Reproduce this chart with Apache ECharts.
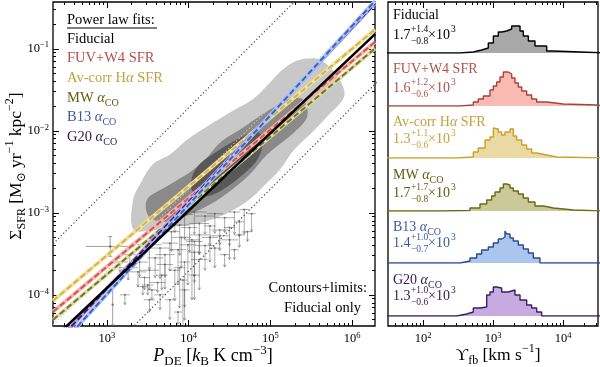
<!DOCTYPE html>
<html><head><meta charset="utf-8">
<script src="https://cdn.jsdelivr.net/npm/echarts@6/dist/echarts.min.js"></script>
<style>html,body{margin:0;padding:0;background:#fff}#c{width:600px;height:367px}</style>
</head><body><div id="c"></div>
<script>
const FONT = '"Liberation Serif","DejaVu Serif",serif';

// ---------- Left panel (all values are log10) ----------
const pdeRange = [2.34, 6.28];
const sfrRange = [-4.38, -0.43];
const pdeMajor = [3, 4, 5, 6];
const sfrMajor = [-4, -3, -2, -1];

const contourOuter = [[3.32,-3.20],[3.32,-2.84],[3.40,-2.66],[3.56,-2.41],[3.77,-2.29],[3.98,-2.11],[4.22,-1.95],[4.50,-1.78],[4.78,-1.62],[4.95,-1.46],[5.11,-1.29],[5.27,-1.17],[5.44,-1.12],[5.60,-1.13],[5.76,-1.26],[5.88,-1.44],[5.90,-1.59],[5.72,-1.80],[5.51,-2.02],[5.29,-2.23],[5.11,-2.48],[4.93,-2.66],[4.74,-2.84],[4.50,-2.99],[4.26,-3.09],[4.01,-3.15],[3.77,-3.17],[3.52,-3.22]];
const contourMid = [[3.52,-3.05],[3.49,-2.84],[3.73,-2.68],[4.01,-2.51],[4.20,-2.35],[4.40,-2.13],[4.62,-1.99],[4.84,-1.84],[5.05,-1.71],[5.27,-1.60],[5.41,-1.63],[5.45,-1.83],[5.29,-2.02],[4.96,-2.29],[4.74,-2.54],[4.50,-2.74],[4.26,-2.90],[4.01,-3.02],[3.77,-3.11]];
const contourInner = [[4.05,-2.74],[4.04,-2.57],[4.13,-2.41],[4.38,-2.23],[4.62,-2.09],[4.83,-2.01],[4.91,-2.11],[4.84,-2.35],[4.62,-2.57],[4.38,-2.74],[4.20,-2.80]];

// reference lines Sigma ∝ P (dotted)
const refUpper = [[2.0,-3.72],[6.5,0.78]];
const refMiddle = [[2.0,-4.71],[6.5,-0.21]];
const refLower = [[2.0,-5.71],[6.5,-1.21]];

// power-law fits: log Sigma at the two ends of the P range
const fitNames = ['Fiducial','FUV+W4 SFR','Av-corr Hα SFR','MW αCO','B13 αCO','G20 αCO'];
const fitPde = [2.34, 6.28];
const fitStart = [-4.539, -4.207, -4.073, -4.305, -4.711, -4.623];
const fitEnd   = [-0.821, -0.918, -0.765, -0.996, -0.417, -0.449];

// upper limits: [logP, logSigma, xErr(dex), arrow length(dex)]
const ptsLimits = [
 [3.83,-3.00,.12,.24],[3.95,-3.02,.10,.30],[4.07,-2.99,.15,.27],[4.20,-3.04,.12,.22],[4.32,-3.01,.10,.24],
 [4.44,-3.06,.12,.18],[4.56,-2.99,.07,.27],[4.68,-2.96,.06,.30],[4.77,-3.01,.05,.22],[3.89,-3.15,.12,.37],
 [4.01,-3.18,.10,.30],[4.13,-3.13,.12,.37],[4.26,-3.16,.07,.24],[4.38,-3.21,.10,.18],[4.50,-3.18,.07,.22],
 [4.62,-3.11,.06,.18],[3.52,-3.39,.15,.30],[3.65,-3.43,.12,.37],[3.77,-3.37,.10,.34],[3.71,-3.51,.12,.27],
 [3.87,-3.45,.10,.43],[3.99,-3.39,.10,.49],[4.07,-3.48,.07,.37],[3.59,-3.55,.10,.24],[3.95,-3.60,.07,.55],
 [4.04,-3.33,.10,.73],[3.38,-3.72,.10,.18],[3.46,-3.79,.07,.15],[3.52,-3.70,.12,.24],[3.62,-3.85,.10,.12],
 [3.44,-3.90,.07,.10],[3.67,-3.76,.07,.18],[3.55,-3.94,.06,.12],[3.26,-3.67,.12,.15],[3.16,-3.60,.10,.12],
 [3.22,-4.00,.06,.12],[3.89,-3.67,.07,.49],[3.93,-3.82,.05,.61],
 [4.13,-3.27,.12,.24],[4.26,-3.30,.10,.30],[4.38,-3.28,.12,.18],[4.50,-3.33,.10,.24],[4.62,-3.27,.07,.15],
 [4.72,-3.23,.06,.12],[3.79,-3.23,.10,.24],[3.91,-3.30,.12,.37],[4.07,-3.35,.10,.43],[4.20,-3.40,.12,.30],
 [4.32,-3.43,.07,.24],[3.71,-3.63,.10,.30],[3.83,-3.70,.07,.37],[3.65,-4.00,.07,.18],[3.77,-4.06,.06,.24],
 [3.52,-4.06,.07,.15],[3.95,-3.94,.06,.37],[4.07,-3.76,.07,.30],[4.13,-3.57,.10,.37],[4.44,-3.51,.06,.15],
 [4.56,-3.45,.05,.12],[3.28,-3.51,.07,.15],[3.40,-3.60,.10,.18],[3.50,-3.88,.07,.12],[3.87,-4.21,.05,.15]
];
// detections: [logP, logSigma, xErr, yErr]
const ptsDetect = [[3.04,-3.41,0.30,0.12],[3.07,-4.12,0.00,0.25]];

// ---------- Right panel ----------
const upsRange = [1.5, 4.5];
const upsMajor = [2, 3, 4];
const histEdges = [
 [2.529,2.719,2.838,2.933,3.005,3.076,3.124,3.195,3.267,3.386,3.433,3.505,3.600,3.767,3.862],
 [2.529,2.719,2.790,2.862,2.957,3.005,3.052,3.100,3.148,3.219,3.267,3.314,3.362,3.410,3.481,3.552,3.624,3.767,4.005,4.481],
 [2.481,2.719,2.790,2.886,2.957,3.005,3.029,3.076,3.124,3.171,3.243,3.290,3.338,3.410,3.481,3.552,3.624,3.767,3.910,4.243],
 [2.243,2.671,2.814,2.910,2.981,3.029,3.100,3.148,3.195,3.243,3.290,3.362,3.433,3.505,3.600,3.719,3.862,4.148],
 [2.529,2.671,2.767,2.838,2.933,3.005,3.076,3.124,3.171,3.195,3.243,3.290,3.362,3.433,3.505,3.576,3.671],
 [2.481,2.624,2.719,2.814,2.910,2.957,3.005,3.052,3.124,3.219,3.314,3.386,3.481,3.552,3.624,3.695]
];
const histCounts = [
 [1,3,5,10,17,21,22,24,27,22,17,12,7,2],
 [1,4,7,10,16,20,24,29,34,32,28,23,19,15,11,7,4,2,1],
 [1,6,10,18,21,30,29,26,23,26,29,22,18,13,9,5,3,1,0.5],
 [0.5,3,7,11,15,19,23,27,26,23,20,17,13,9,5,3,1],
 [2,5,9,13,16,20,24,26,32,29,25,22,18,14,10,5],
 [2,4,8,9,21,24,29,28,24,26,21,16,11,8,4]
];
const panelNames = ['{t|Fiducial}','{t|FUV+W4 SFR}','{t|Av-corr H}{a|α}{t| SFR}','{t|MW }{a|α}{s|CO}','{t|B13 }{a|α}{s|CO}','{t|G20 }{a|α}{s|CO}'];
const upsMedian = [1.7, 1.6, 1.3, 1.7, 1.4, 1.3];   // x10^3 km/s
const upsPlus   = [1.4, 1.2, 1.1, 1.7, 1.0, 1.0];
const upsMinus  = [0.8, 0.6, 0.6, 0.8, 0.7, 0.6];
const errLevel = 6.5;

// ---------- styles ----------
const fitColors = ['#000000','#d8554c','#d8b43e','#77761a','#3b62c6','#3d1e78'];
const fitHalo   = [null,'#f4b5ad','#f1e2a3','#dcdaa6','#aac3f0','#b9a0e2'];
const textColors = ['#000000','#b5504a','#c2a23e','#5f5e12','#3c5a9a','#2f1b4d'];
const histLine = ['#000000','#a8423c','#c9a227','#6b6a14','#2c4a8c','#3b1f63'];
const histFill = ['#a8a8a8','#f9bab4','#ebd9a3','#cbc99a','#abc6ee','#c7aadf'];
const subTops = [2, 53, 106, 158, 211, 263];
const subBase = [53, 106, 158, 211, 263, 316];
const nameY = [15, 69, 122, 175, 227, 280];
const valY  = [35, 88, 139, 193, 243, 296];

function minorList(lo, hi) {
  const out = [];
  for (let n = Math.floor(lo) - 1; n <= Math.ceil(hi); n++)
    for (let k = 2; k <= 9; k++) { const v = n + Math.log10(k); if (v > lo && v < hi) out.push(v); }
  return out;
}
const powRich = { s: { fontFamily: FONT, fontSize: 8.5, color: '#000', verticalAlign: 'top', lineHeight: 9 } };
function fmtPow(v) { const n = Math.round(v); return '10{s|' + (n < 0 ? '−' + (-n) : n) + '}'; }

function axis(dim, gridIndex, position, range, ticks, len, labels, margin) {
  const a = {
    type: 'value', gridIndex, position, min: range[0], max: range[1],
    axisLine: { show: false }, splitLine: { show: false },
    axisTick: { show: true, inside: true, length: len, customValues: ticks, lineStyle: { color: '#000', width: 1 } },
    axisLabel: { show: false }
  };
  if (labels) a.axisLabel = { show: true, customValues: labels, formatter: fmtPow, margin, fontFamily: FONT, fontSize: 12.5, lineHeight: 16, color: '#000', rich: powRich };
  return a;
}

const grids = [
  { left: 53, top: 2, width: 322, height: 324, show: true, borderColor: '#000', borderWidth: 1.3, backgroundColor: 'transparent' },
  { left: 388, top: 2, width: 210, height: 324, show: true, borderColor: '#000', borderWidth: 1.3, backgroundColor: 'transparent' }
];
for (let i = 0; i < 6; i++) grids.push({ left: 388, width: 210, top: subTops[i], height: subBase[i] - subTops[i] });

const pMinor = minorList(pdeRange[0], pdeRange[1]);
const sMinor = minorList(sfrRange[0], sfrRange[1]);
const uMinor = minorList(upsRange[0], upsRange[1]);

const xAxes = [
  axis('x', 0, 'bottom', pdeRange, pdeMajor, 6, pdeMajor, 5),
  axis('x', 0, 'bottom', pdeRange, pMinor, 3),
  axis('x', 0, 'top', pdeRange, pdeMajor, 6),
  axis('x', 0, 'top', pdeRange, pMinor, 3),
  axis('x', 1, 'bottom', upsRange, upsMajor, 6, upsMajor, 5),
  axis('x', 1, 'bottom', upsRange, uMinor, 3),
  axis('x', 1, 'top', upsRange, upsMajor, 6),
  axis('x', 1, 'top', upsRange, uMinor, 3)
];
for (let i = 0; i < 6; i++) xAxes.push({ type: 'value', gridIndex: 2 + i, min: upsRange[0], max: upsRange[1], show: false });
const yAxes = [
  axis('y', 0, 'left', sfrRange, sfrMajor, 6, sfrMajor, 4),
  axis('y', 0, 'left', sfrRange, sMinor, 3),
  axis('y', 0, 'right', sfrRange, sfrMajor, 6),
  axis('y', 0, 'right', sfrRange, sMinor, 3),
  { type: 'value', gridIndex: 1, min: 0, max: 1, show: false }
];
for (let i = 0; i < 6; i++) yAxes.push({ type: 'value', gridIndex: 2 + i, min: 0, max: subBase[i] - subTops[i], show: false });

const series = [];
function polySeries(poly, fill) {
  series.push({ type: 'custom', xAxisIndex: 0, yAxisIndex: 0, silent: true, clip: true, data: [[4, -2]],
    renderItem: (p, api) => ({ type: 'polygon', shape: { points: poly.map(v => api.coord(v)), smooth: 0.35 }, style: { fill: fill } }) });
}
polySeries(contourOuter, '#c8c8c8');
polySeries(contourMid, '#8a8a8a');
polySeries(contourInner, '#585858');

const ptCol = 'rgba(85,85,85,0.7)';
series.push({ type: 'custom', xAxisIndex: 0, yAxisIndex: 0, silent: true, clip: true,
  dimensions: ['p','s','xe','yd'], encode: { x: 0, y: 1 }, data: ptsLimits,
  renderItem: (params, api) => {
    const p = api.value(0), s = api.value(1), xe = api.value(2), yd = api.value(3);
    const c = api.coord([p, s]), l = api.coord([p - xe, s]), r = api.coord([p + xe, s]), b = api.coord([p, s - yd]);
    return { type: 'group', children: [
      { type: 'line', shape: { x1: l[0], y1: l[1], x2: r[0], y2: r[1] }, style: { stroke: ptCol, lineWidth: 0.7 } },
      { type: 'line', shape: { x1: c[0], y1: c[1], x2: b[0], y2: b[1] }, style: { stroke: ptCol, lineWidth: 0.7 } },
      { type: 'polyline', shape: { points: [[b[0]-1.5, b[1]-2.4], [b[0], b[1]], [b[0]+1.5, b[1]-2.4]] }, style: { stroke: ptCol, fill: 'none', lineWidth: 0.7 } },
      { type: 'circle', shape: { cx: c[0], cy: c[1], r: 1 }, style: { fill: ptCol } }
    ] };
  } });
series.push({ type: 'custom', xAxisIndex: 0, yAxisIndex: 0, silent: true, clip: true,
  dimensions: ['p','s','xe','ye'], encode: { x: 0, y: 1 }, data: ptsDetect,
  renderItem: (params, api) => {
    const p = api.value(0), s = api.value(1), xe = api.value(2), ye = api.value(3);
    const c = api.coord([p, s]), l = api.coord([p - xe, s]), r = api.coord([p + xe, s]), t = api.coord([p, s + ye]), b = api.coord([p, s - ye]);
    return { type: 'group', children: [
      { type: 'line', shape: { x1: l[0], y1: l[1], x2: r[0], y2: r[1] }, style: { stroke: ptCol, lineWidth: 0.8 } },
      { type: 'line', shape: { x1: t[0], y1: t[1], x2: b[0], y2: b[1] }, style: { stroke: ptCol, lineWidth: 0.8 } },
      { type: 'line', shape: { x1: b[0]-2, y1: b[1], x2: b[0]+2, y2: b[1] }, style: { stroke: ptCol, lineWidth: 0.8 } },
      { type: 'line', shape: { x1: t[0]-2, y1: t[1], x2: t[0]+2, y2: t[1] }, style: { stroke: ptCol, lineWidth: 0.8 } },
      { type: 'circle', shape: { cx: c[0], cy: c[1], r: 1.2 }, style: { fill: ptCol } }
    ] };
  } });

function lineS(data, color, width, type) {
  series.push({ type: 'line', xAxisIndex: 0, yAxisIndex: 0, data, symbol: 'none', silent: true, clip: true,
    lineStyle: { color, width, type: type || 'solid', cap: 'butt' } });
}
lineS(refUpper, '#444', 1.2, [1.2, 2.4]);
lineS(refMiddle, '#c8c8c8', 1.2, [1.2, 2.4]);
lineS(refLower, '#444', 1.2, [1.2, 2.4]);

[3, 1, 2, 5, 4].forEach(i => {
  const d = [[fitPde[0], fitStart[i]], [fitPde[1], fitEnd[i]]];
  lineS(d, fitHalo[i], 3.8);
  lineS(d, fitColors[i], 2, [6, 3]);
});
lineS([[fitPde[0], fitStart[0]], [fitPde[1], fitEnd[0]]], '#000', 2.6);

// histograms
for (let i = 0; i < 6; i++) {
  const e = histEdges[i], h = histCounts[i];
  const pts = [[upsRange[0] - 0.1, 0], [e[0], 0]];
  for (let k = 0; k < h.length; k++) { pts.push([e[k], h[k]]); pts.push([e[k + 1], h[k]]); }
  pts.push([e[e.length - 1], 0]); pts.push([upsRange[1] + 0.1, 0]);
  series.push({ type: 'line', xAxisIndex: 8 + i, yAxisIndex: 5 + i, data: pts, symbol: 'none', silent: true, clip: true,
    lineStyle: { color: histLine[i], width: 1.4 }, areaStyle: { color: histFill[i], opacity: 1 } });
  const lo = Math.log10((upsMedian[i] - upsMinus[i]) * 1000), mid = Math.log10(upsMedian[i] * 1000), hi = Math.log10((upsMedian[i] + upsPlus[i]) * 1000);
  const col = histLine[i];
  series.push({ type: 'custom', xAxisIndex: 8 + i, yAxisIndex: 5 + i, silent: true, clip: false,
    dimensions: ['lo','mid','hi','y'], encode: { x: 1, y: 3 }, data: [[lo, mid, hi, errLevel]],
    renderItem: (params, api) => {
      const a = api.coord([api.value(0), api.value(3)]), m = api.coord([api.value(1), api.value(3)]), b = api.coord([api.value(2), api.value(3)]);
      return { type: 'group', children: [
        { type: 'line', shape: { x1: a[0], y1: a[1], x2: b[0], y2: b[1] }, style: { stroke: col, lineWidth: 1.4 } },
        { type: 'circle', shape: { cx: m[0], cy: m[1], r: 2.4 }, style: { fill: col } }
      ] };
    } });
}

// ---------- texts ----------
function rs(size, color) {
  return {
    t: { fontFamily: FONT, fontSize: size, fill: color, color, lineHeight: size + 6 },
    a: { fontFamily: FONT, fontSize: size, fill: color, color, fontStyle: 'italic', lineHeight: size + 6 },
    s: { fontFamily: FONT, fontSize: Math.round(size * 0.7), fill: color, color, verticalAlign: 'bottom' },
    p: { fontFamily: FONT, fontSize: Math.round(size * 0.7), fill: color, color, verticalAlign: 'top' }
  };
}
function txt(x, y, text, size, color, align, rot) {
  const g = { type: 'text', x, y, silent: true, z: 100,
    style: { text, rich: rs(size, color), fontFamily: FONT, fontSize: size, fill: color, align: align || 'left', verticalAlign: 'middle' } };
  if (rot) g.rotation = rot;
  return g;
}
const graphics = [];
graphics.push(txt(16, 166, '{t|Σ}{s|SFR}{t| [M}{s|⊙}{t| yr}{p|−1}{t| kpc}{p|−2}{t|]}', 17.5, '#000', 'center', Math.PI / 2));
graphics.push(txt(213, 356, '{a|P}{s|DE}{t| [}{a|k}{s|B}{t| K cm}{p|−3}{t|]}', 18, '#000', 'center'));
graphics.push(txt(498, 355, '{t|ϒ}{s|fb}{t| [km s}{p|−1}{t|]}', 17.5, '#000', 'center'));

// left legend
graphics.push(txt(67, 20, '{t|Power law fits:}', 14.5, '#000'));
graphics.push({ type: 'line', silent: true, z: 100, shape: { x1: 67, y1: 28, x2: 157, y2: 28 }, style: { stroke: '#000', lineWidth: 1 } });
const legNames = ['{t|Fiducial}','{t|FUV+W4 SFR}','{t|Av-corr H}{a|α}{t| SFR}','{t|MW }{a|α}{s|CO}','{t|B13 }{a|α}{s|CO}','{t|G20 }{a|α}{s|CO}'];
const legY = [39, 58, 78, 98, 117, 137];
for (let i = 0; i < 6; i++) graphics.push(txt(67, legY[i], legNames[i], 14.5, textColors[i]));
graphics.push(txt(367, 288, '{t|Contours+limits:}', 14.5, '#000', 'right'));
graphics.push(txt(361, 308, '{t|Fiducial only}', 14.5, '#000', 'right'));

// right panel labels
for (let i = 0; i < 6; i++) {
  const c = textColors[i];
  graphics.push(txt(393, nameY[i], panelNames[i], 14, c));
  graphics.push(txt(393, valY[i], '{t|' + upsMedian[i].toFixed(1) + '}', 14, c));
  graphics.push(txt(411, valY[i] - 6, '{t|+' + upsPlus[i].toFixed(1) + '}', 9.5, c));
  graphics.push(txt(411, valY[i] + 6, '{t|−' + upsMinus[i].toFixed(1) + '}', 9.5, c));
  graphics.push(txt(428, valY[i], '{t|×10}', 14, c));
  graphics.push(txt(451, valY[i] - 6, '{t|3}', 9.5, c));
}

const chart = echarts.init(document.getElementById('c'), null, { renderer: 'canvas' });
chart.setOption({
  animation: false,
  backgroundColor: '#fff',
  grid: grids,
  xAxis: xAxes,
  yAxis: yAxes,
  series,
  graphic: graphics
});
</script></body></html>
